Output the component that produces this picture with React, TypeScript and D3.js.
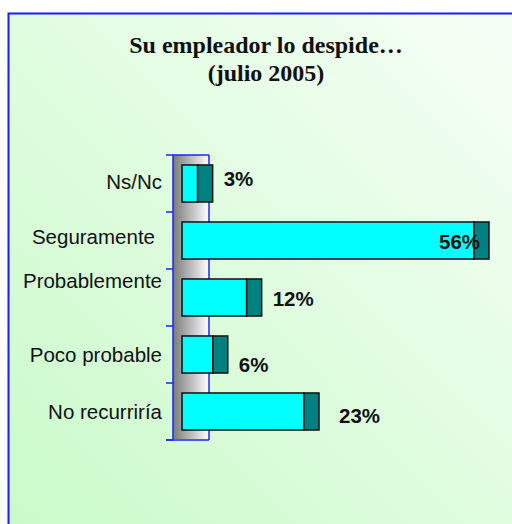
import React from 'react';
import * as d3 from 'd3';

// chart data
const categories = ['Ns/Nc', 'Seguramente', 'Probablemente', 'Poco probable', 'No recurriría'];
const percents = [3, 56, 12.4, 5.9, 23.4];
const titleLines = ['Su empleador lo despide…', '(julio 2005)'];

// hand placed label nudges (the original has labels dragged around a bit)
const catNudge = [[0, -2], [-7, -4], [0, -17], [0, 0], [0, 0]];
const valNudge = [[0, -5], [-61, 1], [0, 1], [0, 10], [9, 4]];

const W = 512;
const H = 524;
const depth = 15;

export default function App() {
  const y = d3.scaleBand<string>()
    .domain(categories)
    .range([155, 440])
    .paddingInner(0.35)
    .paddingOuter(0.175);
  const x = d3.scaleLinear().domain([0, 56]).range([182, 474]);

  const ticks = d3.range(categories.length + 1).map(i => 155 + i * y.step());

  return (
    <svg width={W} height={H} style={{ position: 'absolute', left: 0, top: 0 }}>
      <defs>
        <linearGradient id="bg" x1="0" y1="1" x2="1" y2="0">
          <stop offset="0" stopColor="#c8fac8" />
          <stop offset="1" stopColor="#f8fff8" />
        </linearGradient>
        <linearGradient id="wall" x1="0" y1="0" x2="1" y2="0">
          <stop offset="0" stopColor="#7a7a7a" />
          <stop offset="1" stopColor="#ffffff" />
        </linearGradient>
      </defs>
      <rect x={0} y={0} width={W} height={H} fill="#fff" />
      <rect x={8.5} y={13.5} width={W + 20} height={H + 20} fill="url(#bg)" stroke="#1a1aff" strokeWidth={2} />

      <text textAnchor="middle" fontFamily="'Liberation Serif', 'Times New Roman', serif" fontWeight="bold" fontSize={24} fill="#111">
        {titleLines.map((t, i) => (
          <tspan key={i} x={266} y={53 + i * 28}>{t}</tspan>
        ))}
      </text>

      {/* back wall */}
      <rect x={173} y={155} width={36} height={284} fill="url(#wall)" />
      <g stroke="#2020ff" strokeWidth={1.5} fill="none">
        <line x1={173} y1={155} x2={173} y2={440} />
        <line x1={209} y1={155} x2={209} y2={440} />
        <line x1={173} y1={155} x2={209} y2={155} />
        <line x1={166} y1={440} x2={209} y2={440} />
        {ticks.map((t, i) => (
          <line key={i} x1={166} y1={t} x2={173} y2={t} />
        ))}
      </g>

      {/* bars */}
      {categories.map((c, i) => {
        const top = y(c)!;
        const bw = y.bandwidth();
        const x0 = x(0);
        const x1 = x(percents[i]);
        return (
          <g key={c} stroke="#111" strokeWidth={1.5}>
            <rect x={x0} y={top} width={x1 - x0} height={bw} fill="#00ffff" />
            <rect x={x1} y={top} width={depth} height={bw} fill="#008080" />
          </g>
        );
      })}

      {/* category labels */}
      {categories.map((c, i) => (
        <text key={c} x={162 + catNudge[i][0]} y={y(c)! + y.bandwidth() / 2 + catNudge[i][1]}
          dy="0.35em" textAnchor="end" fontFamily="'Liberation Sans', Arial, sans-serif" fontSize={20.5} fill="#111">
          {c}
        </text>
      ))}

      {/* value labels */}
      {categories.map((c, i) => (
        <text key={c} x={x(percents[i]) + depth + 11 + valNudge[i][0]} y={y(c)! + y.bandwidth() / 2 + valNudge[i][1]}
          dy="0.35em" fontFamily="'Liberation Sans', Arial, sans-serif" fontWeight="bold" fontSize={20.5} fill="#111">
          {Math.round(percents[i])}%
        </text>
      ))}
    </svg>
  );
}
